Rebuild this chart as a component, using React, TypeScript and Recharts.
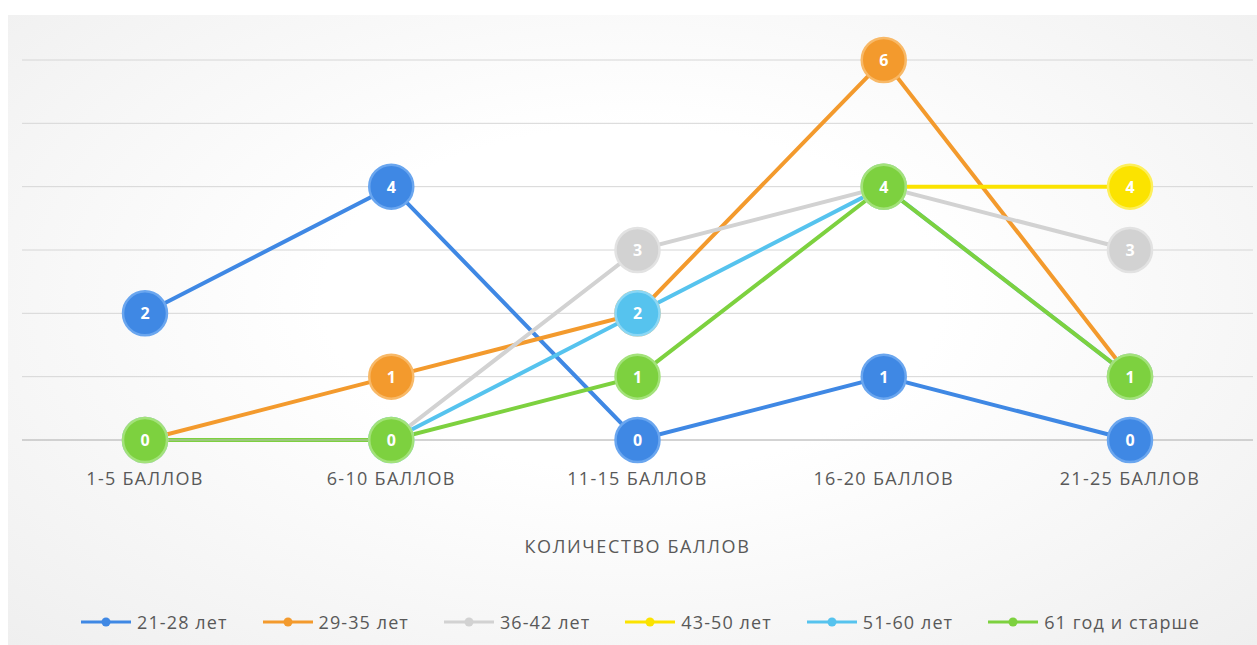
import React from "react";
import { LineChart, Line, XAxis, YAxis, CartesianGrid, Legend, Label } from "recharts";

const categories = ["1-5 БАЛЛОВ", "6-10 БАЛЛОВ", "11-15 БАЛЛОВ", "16-20 БАЛЛОВ", "21-25 БАЛЛОВ"];
const age21to28 = [2, 4, 0, 1, 0];
const age29to35 = [0, 1, 2, 6, 1];
const age36to42 = [0, 0, 3, 4, 3];
const age43to50 = [null, null, null, 4, 4];
const age51to60 = [0, 0, 2, 4, 1];
const age61plus = [0, 0, 1, 4, 1];

const seriesNames = ["21-28 лет", "29-35 лет", "36-42 лет", "43-50 лет", "51-60 лет", "61 год и старше"];
const seriesValues = [age21to28, age29to35, age36to42, age43to50, age51to60, age61plus];
const seriesColors = ["#3f88e4", "#f39a2d", "#d2d2d2", "#fbe300", "#56c3ee", "#7dd13f"];
const ringColors = ["#6aa6ef", "#f8b968", "#e2e2e2", "#fdef5c", "#8bd7f5", "#a3e27a"];

const data = categories.map((name, i) => {
  const row: Record<string, any> = { name };
  seriesValues.forEach((vals, s) => {
    row["s" + s] = vals[i];
  });
  return row;
});

const FONT = "'Open Sans', 'DejaVu Sans', sans-serif";

function Marker(props: any) {
  const { cx, cy, value, fill, ring } = props;
  if (cx == null || cy == null || value == null) return <g />;
  return (
    <g>
      <circle cx={cx} cy={cy} r={22} fill={fill} stroke={ring} strokeWidth={2.5} />
      <text
        x={cx}
        y={cy}
        textAnchor="middle"
        dominantBaseline="central"
        fill="#ffffff"
        fontSize={16}
        fontWeight={700}
        fontFamily={FONT}
      >
        {value}
      </text>
    </g>
  );
}

function LegendRow() {
  return (
    <div
      style={{
        height: 30,
        display: "flex",
        justifyContent: "center",
        alignItems: "center",
        gap: 35,
        fontFamily: FONT,
        fontSize: 18,
        letterSpacing: 1.1,
        color: "#595959",
        paddingLeft: 6,
      }}
    >
      {seriesNames.map((n, i) => (
        <div key={n} style={{ display: "flex", alignItems: "center", gap: 6 }}>
          <svg width={50} height={12}>
            <line x1={0} y1={6} x2={50} y2={6} stroke={seriesColors[i]} strokeWidth={3} />
            <circle cx={25} cy={6} r={4.5} fill={seriesColors[i]} />
          </svg>
          <span>{n}</span>
        </div>
      ))}
    </div>
  );
}

export default function App() {
  return (
    <div style={{ position: "absolute", left: 0, top: 0, width: 1257, height: 645, background: "#ffffff" }}>
      <div
        style={{
          position: "absolute",
          left: 8,
          top: 15,
          right: 0,
          bottom: 0,
          background: "radial-gradient(ellipse at 50% 45%, #ffffff 35%, #efefef 100%)",
        }}
      />
      <LineChart
        width={1257}
        height={645}
        data={data}
        margin={{ top: 60, right: 4, left: 22, bottom: 8 }}
        style={{ position: "absolute", left: 0, top: 0 }}
      >
        <CartesianGrid vertical={false} stroke="#d6d6d6" strokeWidth={1} />
        <XAxis
          dataKey="name"
          height={167}
          padding={{ left: 123, right: 123 }}
          axisLine={{ stroke: "#bcbcbc" }}
          tickLine={false}
          tickMargin={26}
          tick={{ fill: "#595959", fontSize: 18, fontFamily: FONT, letterSpacing: 1.3 }}
        >
          <Label
            value="КОЛИЧЕСТВО БАЛЛОВ"
            position="insideTop"
            offset={100}
            style={{ fill: "#595959", fontSize: 18, fontFamily: FONT, letterSpacing: 1.6 }}
          />
        </XAxis>
        <YAxis hide domain={[0, 6]} ticks={[0, 1, 2, 3, 4, 5, 6]} />
        <Legend verticalAlign="bottom" content={() => <LegendRow />} />
        {seriesNames.map((n, i) => (
          <Line
            key={n}
            dataKey={"s" + i}
            name={n}
            stroke={seriesColors[i]}
            strokeWidth={4}
            isAnimationActive={false}
            connectNulls={false}
            activeDot={false}
            dot={(p: any) => (
              <Marker key={n + "-" + p.index} {...p} fill={seriesColors[i]} ring={ringColors[i]} />
            )}
          />
        ))}
      </LineChart>
    </div>
  );
}
